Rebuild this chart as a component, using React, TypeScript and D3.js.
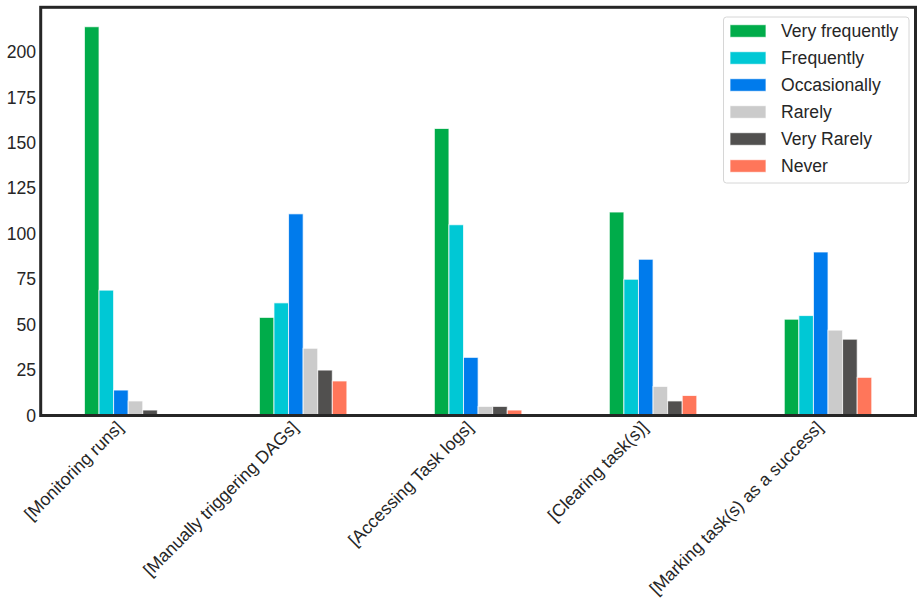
import * as d3 from "d3"

const categories = [
  "[Monitoring runs]",
  "[Manually triggering DAGs]",
  "[Accessing Task logs]",
  "[Clearing task(s)]",
  "[Marking task(s) as a success]",
]

const seriesNames = ["Very frequently", "Frequently", "Occasionally", "Rarely", "Very Rarely", "Never"]
const seriesColors = ["#00ac4a", "#00c8d5", "#007bec", "#cbcbcb", "#51504f", "#ff765a"]

// one row per series, one value per category
const veryFrequently = [214, 54, 158, 112, 53]
const frequently = [69, 62, 105, 75, 55]
const occasionally = [14, 111, 32, 86, 90]
const rarely = [8, 37, 5, 16, 47]
const veryRarely = [3, 25, 5, 8, 42]
const never = [0, 19, 3, 11, 21]

const yTicks = [0, 25, 50, 75, 100, 125, 150, 175, 200]

const seriesValues = [veryFrequently, frequently, occasionally, rarely, veryRarely, never]

const W = 924
const H = 614
const margin = { top: 7.3, right: 8.5, bottom: 198.5, left: 40.7 }
const FONT = "Arial, 'Liberation Sans', Helvetica, sans-serif"
const TEXT = "#262626"

const App = () => {
  const left = margin.left
  const right = W - margin.right
  const top = margin.top
  const bottom = H - margin.bottom

  const x = d3.scaleBand<string>().domain(categories).range([left, right]).padding(0)
  const bw = x.bandwidth()
  const inner = d3
    .scaleBand<string>()
    .domain(seriesNames)
    .range([-bw * 0.25, bw * 0.25])
    .padding(0)

  const yMax = (d3.max(seriesValues.flat()) || 0) * 1.05
  const y = d3.scaleLinear().domain([0, yMax]).range([bottom, top])

  const legendX = 723.5
  const legendY = 17
  const rowH = 27

  return (
    <div style={{ position: "fixed", left: 0, top: 0, width: W, height: H, background: "#fff" }}>
      <svg width={W} height={H} style={{ fontFamily: FONT }}>
        <rect x={0} y={0} width={W} height={H} fill="#fff" />

        {/* bars */}
        {seriesNames.map((s, si) => (
          <g key={s} fill={seriesColors[si]}>
            {categories.map((c, ci) => {
              const v = seriesValues[si][ci]
              const cx = (x(c) || 0) + bw / 2
              return (
                <rect
                  key={c}
                  x={cx + (inner(s) || 0)}
                  y={y(v)}
                  width={inner.bandwidth()}
                  height={bottom - y(v)}
                  stroke="#fff"
                  strokeOpacity={0.75}
                  strokeWidth={1}
                />
              )
            })}
          </g>
        ))}

        {/* y tick labels */}
        {yTicks.map(t => (
          <text
            key={t}
            x={36}
            y={y(t)}
            textAnchor="end"
            dominantBaseline="central"
            fontSize={17.6}
            fill={TEXT}
          >
            {t}
          </text>
        ))}

        {/* x tick labels */}
        {categories.map(c => {
          const cx = (x(c) || 0) + bw / 2
          return (
            <text
              key={c}
              transform={`translate(${cx - 4},${bottom + 13}) rotate(-45)`}
              textAnchor="end"
              fontSize={17.6}
              fill={TEXT}
            >
              {c}
            </text>
          )
        })}

        {/* frame */}
        <rect
          x={left}
          y={top}
          width={right - left}
          height={bottom - top}
          fill="none"
          stroke={TEXT}
          strokeWidth={3}
        />

        {/* legend */}
        <rect
          x={legendX}
          y={legendY}
          width={185.5}
          height={166}
          rx={3}
          fill="#fff"
          fillOpacity={0.9}
          stroke="#d6d6d6"
          strokeWidth={1}
        />
        {seriesNames.map((s, i) => {
          const cy = legendY + 14 + i * rowH
          return (
            <g key={s}>
              <rect
                x={legendX + 6.5}
                y={cy - 6.3}
                width={36}
                height={12.6}
                fill={seriesColors[i]}
                stroke="#fff"
                strokeOpacity={0.75}
                strokeWidth={1}
              />
              <text
                x={legendX + 57.5}
                y={cy}
                dominantBaseline="central"
                fontSize={17.6}
                fill={TEXT}
              >
                {s}
              </text>
            </g>
          )
        })}
      </svg>
    </div>
  )
}

export default App
